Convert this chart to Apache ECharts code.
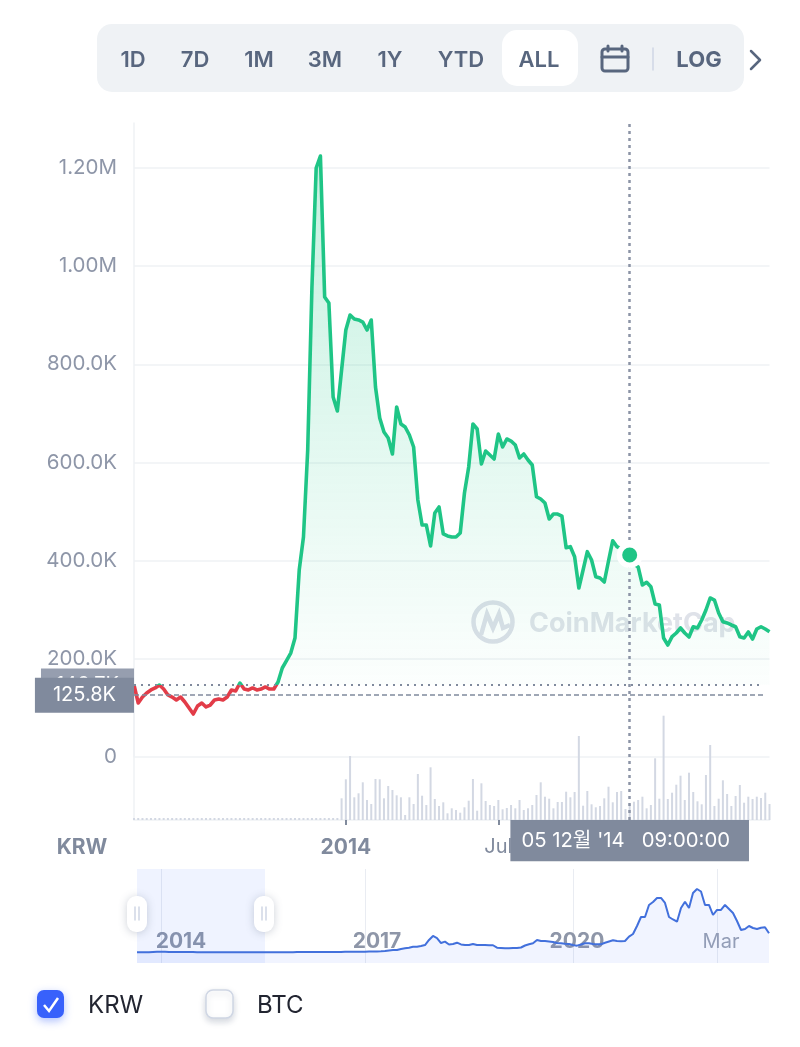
<!DOCTYPE html>
<html>
<head>
<meta charset="utf-8">
<title>KRW chart</title>
<script src="https://cdn.jsdelivr.net/npm/echarts@6/dist/echarts.min.js"></script>
<style>
body { margin: 0; background: #fff; }
#main { width: 800px; height: 1047px; }
</style>
</head>
<body>
<div id="main"></div>
<script>
// price in thousand KRW, one point per bar
var prices = [146.7,110,122.2,130.4,136.5,140.6,146.7,138.5,126.3,122.2,116.1,122.2,112,99.8,87.6,103.9,110,101.9,105.9,116.1,
  118.1,116.1,122.2,136.5,134.4,150.7,138.5,136.5,140.6,136.5,138.5,142.6,138.5,138.5,152.8,181.3,196.2,211.8,242.4,380.9,
  448.1,625.4,957.4,1199.8,1224.2,937,924.8,733.3,704.8,788.3,869.8,900.4,892.2,890.2,886.1,869.8,890.2,753.7,690.5,662,
  649.8,617.2,713,678.3,672.2,655.9,631.5,523.5,472.6,472.6,429.8,497,509.3,454.3,450.2,448.1,448.1,456.3,537.8,590.7,
  678.3,668.1,596.8,623.3,615.2,607,658,631.5,647.8,643.7,635.5,609.1,617.2,605,594.8,530.2,525.5,517.4,484.8,495,
  495,490.9,426.3,428.4,408,344.3,380.9,418.2,401.3,367.3,364.6,356.5,399.3,440.6,428.4,423.7,417.6,411.5,393.1,387,
  350.4,355.9,346.9,311.7,309.6,242.4,228.1,245.1,252.6,262.8,252.6,244.4,265.4,262.8,279.1,299.4,323.9,319.8,293.3,275.6,
  273,268.9,265.4,245.1,242.4,254.6,240.4,260.7,265.4,260.7,255.2];
var volumes = [0.5,0.5,0.5,0.5,0.5,0.5,0.5,0.5,0.5,0.5,0.5,0.5,0.5,0.5,0.5,0.5,0.5,0.5,0.5,0.5,
  0.5,0.5,0.5,0.5,0.5,0.5,0.5,0.5,0.5,0.5,0.5,0.5,0.5,0.5,0.5,0.5,0.5,0.5,0.5,0.5,
  0.5,0.5,0.5,0.5,0.5,0.5,0.5,0.5,0.5,21.7,40.7,64,22.7,26.7,37.7,20,16,41,40.7,21.7,
  34,30,24.7,22.7,5,22.7,16,46,24.3,15,52.7,21,14,17.7,6.7,11.7,10,7.3,12.7,19.3,
  41,9.3,36.7,19,15,14,20,10.7,12,15,11.7,20,10,11.7,15,25,37.7,23.3,21.3,11.7,
  18,18,28.3,22.7,28,84,14.3,29,15.7,12.7,14,21.7,33.3,17.7,28,29,11,16,18.3,20,
  23.3,11.7,15,61.7,21.3,104.3,21,27.3,35.3,44.3,20,47.3,28,18.7,15.7,45,75,14,21.3,39.7,
  26,14,24,35,17.3,23.3,21,23.3,22,27.3,16];
// overview line, million KRW
var overview = [0.15,0.15,0.15,0.2,0.6,1,0.9,0.8,0.7,0.65,0.6,0.55,0.5,0.45,0.45,0.4,0.35,0.3,0.3,0.3,
  0.3,0.3,0.3,0.3,0.3,0.3,0.3,0.3,0.3,0.3,0.3,0.3,0.3,0.35,0.35,0.35,0.35,0.4,0.4,0.4,
  0.45,0.45,0.5,0.5,0.5,0.55,0.6,0.65,0.7,0.7,0.7,0.75,0.8,0.85,0.9,0.9,1,1,1.1,1.2,
  1.3,1.5,1.8,2.5,3,3.1,4.4,5.2,6,7.2,7.2,8.1,9.3,15.6,20.6,18,11.8,13.5,10,10.6,
  12.2,10,9.3,9.3,10.6,9.3,9.3,9.3,9,9,6,5.6,5.2,5.2,5.6,5.6,6.2,8.7,10.3,11.5,
  15.6,14.3,14.3,13.7,13.1,11.8,11.5,10.8,10.6,9.3,8.5,10,11.5,11.5,10.6,10.3,10.3,12.1,13.7,15.2,
  14.3,14,14.3,19.7,23,33,44.2,44.2,59.2,62.9,67.9,67.9,61.7,44.2,41.1,38.4,55.4,63.3,55.4,74.1,
  79.1,76,59.2,59.2,46.7,53,53,59.2,54.2,49.2,39.2,28,29.3,33,30.5,29.3,30.9,31.4,23.9];

var priceTicks = { 50: '2014', 86: 'Jul' };
var overviewLabels = { 11: '2014', 60: '2017', 110: '2020', 146: 'Mar' };
var overviewLines = [6, 57, 109, 145];
var rangeButtons = ['1D', '7D', '1M', '3M', '1Y', 'YTD', 'ALL'];
var rangeCenters = [133, 195, 259, 325, 390, 461, 539];

var openPrice = 146.7;
var lastPrice = 125.8;
var hoverIndex = 117;
var hoverLabel = "05 12월 '14   09:00:00";
var selectEnd = 32;

var FONT = 'Inter, "Noto Sans CJK KR", sans-serif';
var GREEN = '#1fc586';
var RED = '#e23c48';
var SLATE = '#808a9d';
var LINE = '#eff2f5';

var categories = prices.map(function (v, i) { return i; });
var overviewCats = overview.map(function (v, i) { return i; });

function priceLabel(v) {
  if (v === 0) return '0';
  if (v >= 1000) return (v / 1000).toFixed(2) + 'M';
  return v.toFixed(1) + 'K';
}

function txt(text, x, y, size, weight, color, align) {
  return {
    type: 'text', x: x, y: y, z: 50,
    style: { text: text, font: weight + ' ' + size + 'px ' + FONT, fill: color, textAlign: align || 'center', textVerticalAlign: 'middle' }
  };
}

function rr(x, y, w, h, r, fill, extra) {
  var style = { fill: fill };
  for (var k in extra) style[k] = extra[k];
  return { type: 'rect', z: 40, shape: { x: x, y: y, width: w, height: h, r: r }, style: style };
}

function seg(points, color, width) {
  return { type: 'polyline', z: 51, shape: { points: points }, style: { stroke: color, lineWidth: width, fill: null, lineCap: 'round', lineJoin: 'round' } };
}

// toolbar, legend, watermark and overview handles
var chrome = [];
chrome.push(rr(97, 24, 647, 68, 15, LINE));
chrome.push(rr(502, 30, 76, 56, 15, '#fff'));
rangeButtons.forEach(function (b, i) {
  chrome.push(txt(b, rangeCenters[i], 60, 22, 600, '#58667e'));
});
chrome.push(rr(602, 49, 26, 22, 3, 'transparent', { stroke: '#58667e', lineWidth: 3 }));
chrome.push(seg([[602, 57], [628, 57]], '#58667e', 3));
chrome.push(seg([[608, 46], [608, 51]], '#58667e', 3));
chrome.push(seg([[622, 46], [622, 51]], '#58667e', 3));
chrome.push(seg([[653, 48], [653, 70]], '#cfd6e4', 1.5));
chrome.push(txt('LOG', 699, 60, 22, 700, '#58667e'));
chrome.push(seg([[751, 51], [760, 60], [751, 69]], '#58667e', 2.5));

chrome.push(txt('KRW', 82, 848, 21, 700, SLATE));

chrome.push({ type: 'circle', z: 1, shape: { cx: 493, cy: 622, r: 19.5 }, style: { fill: null, stroke: '#dcdfe8', lineWidth: 4.5 } });
chrome.push({ type: 'polyline', z: 1, shape: { points: [[481, 635], [487, 614], [493, 628], [499, 614], [503, 628], [510, 625]] }, style: { fill: null, stroke: '#dcdfe8', lineWidth: 4.5 } });
chrome.push({
  type: 'text', x: 529, y: 624, z: 1,
  style: { text: 'CoinMarketCap', font: '700 27px ' + FONT, fill: '#dfe2e9', textVerticalAlign: 'middle' }
});

[137, 264].forEach(function (cx) {
  chrome.push(rr(cx - 10, 896, 20, 36, 9, '#fff', { shadowBlur: 8, shadowColor: 'rgba(88,102,126,0.3)', shadowOffsetY: 1 }));
  chrome.push(seg([[cx - 2, 907], [cx - 2, 920]], '#cfd6e4', 1.5));
  chrome.push(seg([[cx + 2, 907], [cx + 2, 920]], '#cfd6e4', 1.5));
});

chrome.push(rr(37, 990, 27, 28, 7, '#3861fb', { shadowBlur: 8, shadowColor: 'rgba(56,97,251,0.4)', shadowOffsetY: 3 }));
chrome.push({ type: 'polyline', z: 51, shape: { points: [[44, 1005], [49, 1011], [58, 998]] }, style: { stroke: '#fff', lineWidth: 2.5, fill: null } });
chrome.push(txt('KRW', 88, 1006, 24, 400, '#222531', 'left'));
chrome.push(rr(206, 990, 27, 28, 7, '#fff', { stroke: '#cfd6e4', lineWidth: 1.5, shadowBlur: 6, shadowColor: 'rgba(88,102,126,0.25)', shadowOffsetY: 3 }));
chrome.push(txt('BTC', 257, 1006, 24, 400, '#222531', 'left'));

var myChart = echarts.init(document.getElementById('main'));
myChart.setOption({
  animation: false,
  textStyle: { fontFamily: FONT },
  graphic: chrome,
  grid: [
    { left: 134, width: 635.5, top: 123, height: 634 },
    { left: 134, width: 635.5, top: 695, height: 125 },
    { left: 137, width: 632, top: 869, height: 94 }
  ],
  xAxis: [
    { gridIndex: 0, type: 'category', boundaryGap: false, data: categories, show: false },
    {
      gridIndex: 1, type: 'category', boundaryGap: false, data: categories,
      axisLine: { lineStyle: { color: LINE, width: 1.5 } },
      axisTick: {
        length: 5,
        lineStyle: { color: '#58667e', width: 1.5 },
        interval: function (i) { return priceTicks[i] !== undefined; }
      },
      axisLabel: {
        margin: 17,
        fontSize: 21,
        color: SLATE,
        hideOverlap: false,
        interval: function (i) { return priceTicks[i] !== undefined; },
        formatter: function (v) {
          var s = priceTicks[v];
          return s === 'Jul' ? '{m|' + s + '}' : '{b|' + s + '}';
        },
        rich: {
          b: { fontSize: 21, fontWeight: 700, color: SLATE },
          m: { fontSize: 20, fontWeight: 400, color: SLATE }
        }
      }
    },
    {
      gridIndex: 2, type: 'category', boundaryGap: false, data: overviewCats,
      axisLine: { show: false },
      axisTick: { show: false },
      splitLine: {
        show: true,
        lineStyle: { color: '#e9ecf2', width: 1 },
        interval: function (i) { return overviewLines.indexOf(i) >= 0; }
      },
      axisLabel: {
        inside: true,
        margin: 11,
        hideOverlap: false,
        interval: function (i) { return overviewLabels[i] !== undefined; },
        formatter: function (v) {
          var s = overviewLabels[v];
          return s === 'Mar' ? '{m|' + s + '}' : '{b|' + s + '}';
        },
        rich: {
          b: { fontSize: 21, fontWeight: 700, color: '#8e96a8' },
          m: { fontSize: 20, fontWeight: 400, color: '#9aa2b2' }
        }
      }
    }
  ],
  yAxis: [
    {
      gridIndex: 0, type: 'value', min: 0, max: 1291.5, interval: 200,
      axisLine: { show: true, lineStyle: { color: LINE, width: 1.5 } },
      axisTick: { show: false },
      splitLine: { show: true, showMaxLine: false, lineStyle: { color: LINE, width: 1.5 } },
      axisLabel: { margin: 17, fontSize: 20.5, color: '#8e96a8', padding: [6, 0, 0, 0], showMaxLabel: false, formatter: priceLabel }
    },
    {
      gridIndex: 1, type: 'value', min: 0, max: 125,
      axisLine: { show: true, lineStyle: { color: LINE, width: 1.5 } },
      axisTick: { show: false }, splitLine: { show: false }, axisLabel: { show: false }
    },
    { gridIndex: 2, type: 'value', min: -13.1, max: 104, show: false, splitLine: { show: false } }
  ],
  visualMap: {
    show: false,
    seriesIndex: 1,
    dimension: 1,
    pieces: [
      { gt: -1000, lte: openPrice, color: RED },
      { gt: openPrice, lte: 2000, color: GREEN }
    ]
  },
  series: [
    {
      name: 'volume', type: 'bar', xAxisIndex: 1, yAxisIndex: 1, data: volumes,
      barWidth: 2, barMinHeight: 2,
      itemStyle: { color: '#d3d8e3' },
      markLine: {
        silent: true, symbol: 'none',
        lineStyle: { color: '#8c94a6', type: [3, 4], width: 2.5 },
        label: {
          position: 'start', distance: 0, formatter: hoverLabel, color: '#fff', fontSize: 20.3,
          backgroundColor: SLATE, padding: [11, 19, 10, 11]
        },
        data: [[{ xAxis: hoverIndex, yAxis: 0 }, { xAxis: hoverIndex, yAxis: 63 }]]
      }
    },
    {
      name: 'price', type: 'line', xAxisIndex: 0, yAxisIndex: 0, data: prices,
      showSymbol: false, symbol: 'none',
      lineStyle: { width: 3.6, join: 'round' },
      areaStyle: {
        origin: openPrice,
        color: new echarts.graphic.LinearGradient(0, 0, 0, 1, [
          { offset: 0, color: 'rgba(22,199,132,0.36)' },
          { offset: 1, color: 'rgba(22,199,132,0)' }
        ])
      },
      markLine: {
        silent: true, symbol: 'none',
        data: [
          [{
            xAxis: 0, yAxis: openPrice,
            lineStyle: { color: SLATE, type: [2, 5], width: 2 },
            label: {
              position: 'start', distance: 0, formatter: priceLabel(openPrice), color: '#fff', fontSize: 20,
              backgroundColor: '#969eaf', padding: [7, 15, 6, 15]
            }
          }, { xAxis: 148, yAxis: openPrice }],
          [{
            xAxis: 0, yAxis: lastPrice,
            lineStyle: { color: SLATE, type: [5, 3], width: 1.5 },
            label: {
              position: 'start', distance: 0, formatter: priceLabel(lastPrice), color: '#fff', fontSize: 20,
              backgroundColor: SLATE, padding: [8, 18, 7, 18]
            }
          }, { xAxis: 149, yAxis: lastPrice }],
          [{
            xAxis: hoverIndex, yAxis: 0,
            lineStyle: { color: '#8c94a6', type: [3, 4], width: 2.5 },
            label: { show: false }
          }, { xAxis: hoverIndex, yAxis: 1291.5 }]
        ]
      },
      markPoint: {
        silent: true,
        symbol: 'circle',
        symbolSize: 20.5,
        itemStyle: { color: GREEN, borderColor: '#fff', borderWidth: 5.5 },
        label: { show: false },
        data: [{ coord: [hoverIndex, prices[hoverIndex]] }]
      }
    },
    {
      name: 'overview', type: 'line', xAxisIndex: 2, yAxisIndex: 2, data: overview,
      showSymbol: false, symbol: 'none',
      lineStyle: { width: 2, color: '#4270dc' },
      itemStyle: { color: '#4270dc' },
      areaStyle: { origin: 'start', color: 'rgba(56,97,251,0.1)' },
      markArea: {
        silent: true,
        itemStyle: { color: 'rgba(56,97,251,0.08)' },
        data: [[{ xAxis: 0 }, { xAxis: selectEnd }]]
      }
    }
  ]
});
</script>
</body>
</html>
